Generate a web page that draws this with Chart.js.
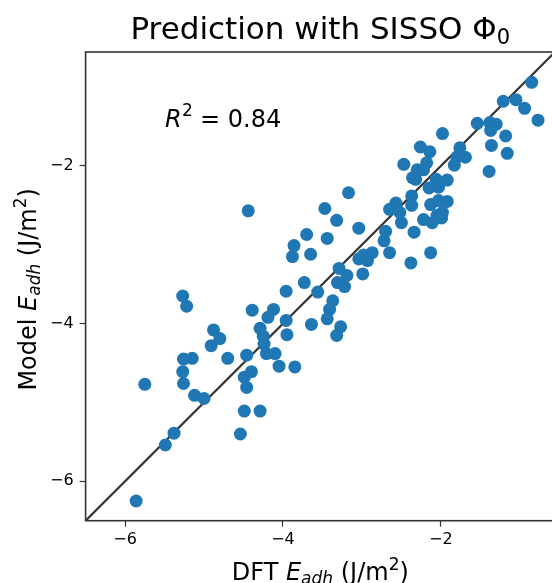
<!DOCTYPE html>
<html>
<head>
<meta charset="utf-8">
<script src="https://cdn.jsdelivr.net/npm/chart.js@4/dist/chart.umd.min.js"></script>
<style>
  html,body{margin:0;padding:0;background:#fff;overflow:hidden}
  #wrap{width:552px;height:583px;overflow:hidden}
  #c{width:562px;height:583px;display:block}
</style>
</head>
<body>
<div id="wrap"><canvas id="c" width="562" height="583"></canvas></div>
<script>
// ── DATA ──
const dftEadh = [
  -0.85,-1.21,-1.05,-0.94,-0.77,-1.54,-1.38,-1.30,-1.37,-1.98,-1.18,-1.36,-1.16,-1.39,
  -2.26,-2.14,-2.47,-2.18,-2.30,-2.22,-2.36,-2.32,-1.76,-1.80,-1.69,-1.83,-2.06,-1.92,-2.03,-2.15,
  -3.17,-3.47,-3.32,-3.44,-3.04,-2.37,-2.37,-2.57,-2.65,-2.52,-2.50,-2.13,-2.03,-1.92,-1.98,-2.05,
  -2.22,-2.11,-1.99,-2.34,-2.70,-2.72,-2.65,-3.04,-2.98,-2.87,-2.93,-2.38,-2.13,-2.99,-3.29,-3.19,
  -3.31,-3.22,-3.70,-3.86,-3.88,-3.65,-3.73,-3.56,-3.96,-3.37,-3.41,-3.44,-3.64,-3.27,-3.32,
  -5.27,-5.22,-4.39,-4.12,-4.19,-3.96,-3.95,-4.29,-4.25,-4.24,-4.21,-4.10,-4.05,-3.85,
  -4.88,-4.80,-4.91,-5.26,-5.15,-4.70,-4.46,-5.27,-5.26,-4.40,-4.49,-4.46,-5.12,-5.00,-5.75,
  -4.49,-4.29,-5.38,-5.49,-4.54,-5.86,-4.44
];
const modelEadh = [
  -0.94,-1.18,-1.16,-1.27,-1.42,-1.46,-1.45,-1.47,-1.55,-1.59,-1.62,-1.74,-1.84,-2.07,
  -1.76,-1.82,-1.98,-1.96,-2.05,-2.05,-2.15,-2.17,-1.77,-1.89,-1.89,-1.99,-2.17,-2.18,-2.27,-2.28,
  -2.34,-2.54,-2.69,-2.92,-2.79,-2.38,-2.50,-2.47,-2.55,-2.59,-2.72,-2.49,-2.44,-2.45,-2.59,-2.63,
  -2.68,-2.72,-2.66,-2.84,-2.83,-2.95,-3.10,-3.18,-3.13,-3.10,-3.20,-3.23,-3.10,-3.37,-3.30,-3.39,
  -3.48,-3.53,-2.87,-3.01,-3.15,-3.12,-3.48,-3.60,-3.59,-3.71,-3.82,-3.94,-4.01,-4.04,-4.15,
  -3.65,-3.78,-3.83,-3.82,-3.92,-3.96,-4.14,-4.06,-4.16,-4.26,-4.38,-4.38,-4.54,-4.55,
  -4.08,-4.19,-4.28,-4.45,-4.44,-4.44,-4.40,-4.61,-4.76,-4.61,-4.68,-4.81,-4.91,-4.95,-4.77,
  -5.11,-5.11,-5.39,-5.54,-5.40,-6.25,-2.57
];
const parityLine = [-6.5, -0.5];
const axisMin = -6.5, axisMax = -0.555;
const tickValues = [-6, -4, -2];
const r2Text = '0.84';

const FONT = '"DejaVu Sans", sans-serif';
const BLUE = '#1f77b4';

// rich text: parts = [{t, size, italic, dy}]
function richText(ctx, parts, x, y, rot) {
  const f = p => (p.italic ? 'italic ' : '') + p.size + 'px ' + FONT;
  let w = 0;
  parts.forEach(p => { ctx.font = f(p); w += ctx.measureText(p.t).width; });
  ctx.save();
  ctx.translate(x, y);
  if (rot) ctx.rotate(rot);
  ctx.fillStyle = '#000';
  ctx.textBaseline = 'alphabetic';
  ctx.textAlign = 'left';
  let cx = -w / 2;
  parts.forEach(p => { ctx.font = f(p); ctx.fillText(p.t, cx, p.dy || 0); cx += ctx.measureText(p.t).width; });
  ctx.restore();
}

const labelsPlugin = {
  id: 'labels',
  afterDraw(chart) {
    const ctx = chart.ctx, a = chart.chartArea;
    // frame (right side falls outside the visible window, like the reference)
    ctx.save();
    ctx.strokeStyle = '#333'; ctx.lineWidth = 1.6;
    ctx.strokeRect(a.left, a.top, a.right - a.left, a.bottom - a.top);
    ctx.restore();
    const cx = (a.left + a.right) / 2, cy = (a.top + a.bottom) / 2;
    richText(ctx, [{t:'Prediction with SISSO Φ', size:31}, {t:'0', size:21, dy:5}], cx, 39);
    const lab = first => [
      {t:first, size:24}, {t:'E', size:24, italic:true}, {t:'adh', size:17, italic:true, dy:4},
      {t:' (J/m', size:24}, {t:'2', size:17, dy:-10}, {t:')', size:24}
    ];
    richText(ctx, lab('DFT '), cx, 580);
    richText(ctx, lab('Model '), 36, cy + 3, -Math.PI / 2);
    // R² annotation
    ctx.save();
    ctx.fillStyle = '#000'; ctx.textBaseline = 'alphabetic';
    ctx.font = 'italic 24px ' + FONT; ctx.fillText('R', 165, 127);
    ctx.font = '17px ' + FONT; ctx.fillText('2', 182, 116);
    ctx.font = '24px ' + FONT; ctx.fillText('= ' + r2Text, 200, 127);
    ctx.restore();
  }
};

const tickFmt = v => (v < 0 ? '\u2212' : '') + Math.abs(v);

new Chart(document.getElementById('c'), {
  type: 'scatter',
  data: {
    datasets: [
      { data: dftEadh.map((x, i) => ({x, y: modelEadh[i]})),
        backgroundColor: BLUE, borderWidth: 0, pointRadius: 6.5, order: 1 },
      { type: 'line', data: parityLine.map(v => ({x: v, y: v})),
        borderColor: '#333', borderWidth: 2.2, pointRadius: 0, order: 2 }
    ]
  },
  options: {
    responsive: false, animation: false,
    layout: { padding: { top: 52, right: 7, left: 0, bottom: 0 } },
    plugins: { legend: { display: false }, tooltip: { enabled: false } },
    scales: {
      x: {
        type: 'linear', min: axisMin, max: axisMax,
        afterBuildTicks: s => { s.ticks = tickValues.map(v => ({value: v})); },
        afterFit: s => { s.height = 62.3; },
        grid: { drawOnChartArea: false, drawTicks: true, tickLength: 6, color: '#333', tickWidth: 1.2 },
        border: { display: false },
        ticks: { callback: tickFmt, color: '#000', font: { family: FONT, size: 16 }, padding: 4, maxRotation: 0 }
      },
      y: {
        type: 'linear', min: axisMin, max: axisMax,
        afterBuildTicks: s => { s.ticks = tickValues.map(v => ({value: v})); },
        afterFit: s => { s.width = 85.6; },
        grid: { drawOnChartArea: false, drawTicks: true, tickLength: 6, color: '#333', tickWidth: 1.2 },
        border: { display: false },
        ticks: { callback: tickFmt, color: '#000', font: { family: FONT, size: 16 }, padding: 6 }
      }
    }
  },
  plugins: [labelsPlugin]
});
</script>
</body>
</html>
